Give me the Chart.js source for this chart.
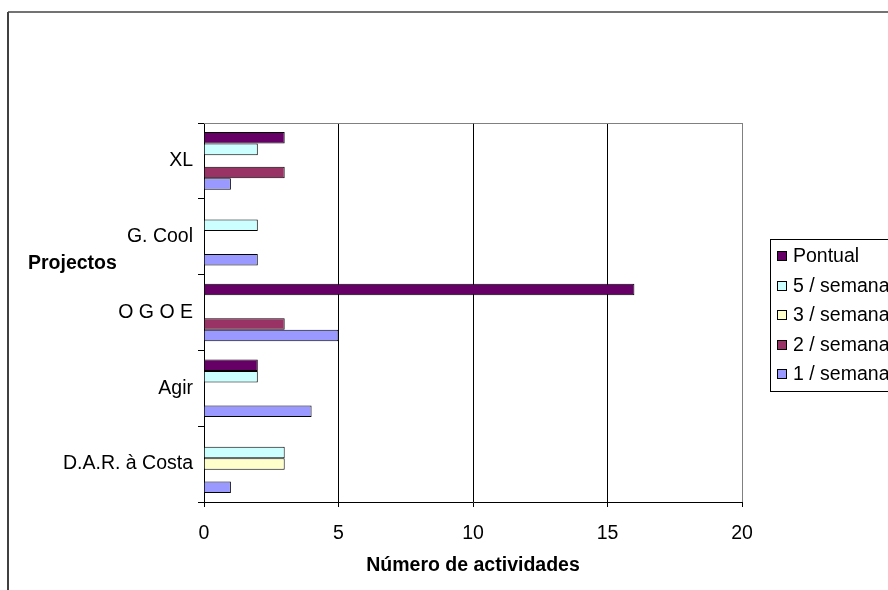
<!DOCTYPE html>
<html>
<head>
<meta charset="utf-8">
<script src="https://cdn.jsdelivr.net/npm/chart.js@4.4.0/dist/chart.umd.min.js"></script>
<style>
  html, body { margin: 0; padding: 0; background: #fff; }
  #wrap { position: relative; width: 888px; height: 590px; overflow: hidden; background: #fff; }
</style>
</head>
<body>
<div id="wrap"><canvas id="c"></canvas></div>
<script>
// Projects, listed top to bottom
const categories = ['XL', 'G. Cool', 'O G O E', 'Agir', 'D.A.R. à Costa'];
// Activity frequency series (null = no activities of that kind)
const seriesNames = ['Pontual', '5 / semana', '3 / semana', '2 / semana', '1 / semana'];
const pontual  = [3, null, 16, 2, null];
const cincoSem = [2, 2, null, 2, 3];
const tresSem  = [null, null, null, null, 3];
const doisSem  = [3, null, 3, null, null];
const umSem    = [1, 2, 5, 4, 1];
const xTicks   = [0, 5, 10, 15, 20];

const palette = ['#660066', '#CCFFFF', '#FFFFCC', '#993366', '#9999FF'];
const FONT = '"Liberation Sans", Arial, Helvetica, sans-serif';
const FS = 19.5;

const seriesValues = [pontual, cincoSem, tresSem, doisSem, umSem];
const datasets = seriesNames.map((name, i) => ({
  label: name,
  data: seriesValues[i],
  backgroundColor: palette[i],
  borderColor: '#000',
  borderWidth: 1,
  categoryPercentage: 0.76,
  barPercentage: 1.0
}));

// Frame, plot border, horizontal axis caption and boxed legend
const decorations = {
  id: 'decorations',
  afterDraw(chart) {
    const ctx = chart.ctx;
    const area = chart.chartArea;
    ctx.save();

    // outer frame
    ctx.strokeStyle = '#000';
    ctx.lineWidth = 1.5;
    ctx.beginPath();
    ctx.moveTo(8, 590);
    ctx.lineTo(8, 12);
    ctx.stroke();
    ctx.strokeStyle = '#444';
    ctx.beginPath();
    ctx.moveTo(8, 12);
    ctx.lineTo(888, 12);
    ctx.stroke();

    // top edge of the plot area
    ctx.strokeStyle = '#808080';
    ctx.lineWidth = 1;
    ctx.beginPath();
    ctx.moveTo(area.left, Math.round(area.top) + 0.5);
    ctx.lineTo(area.right + 1, Math.round(area.top) + 0.5);
    ctx.stroke();

    // y axis caption, written horizontally
    ctx.fillStyle = '#000';
    ctx.font = 'bold ' + FS + 'px ' + FONT;
    ctx.textAlign = 'left';
    ctx.textBaseline = 'alphabetic';
    ctx.fillText('Projectos', 28, 269);

    // legend
    const lx = 770, ly = 239, lw = 140, lh = 152;
    ctx.fillStyle = '#fff';
    ctx.fillRect(lx, ly, lw, lh);
    ctx.strokeStyle = '#000';
    ctx.strokeRect(lx + 0.5, ly + 0.5, lw, lh);
    ctx.font = FS + 'px ' + FONT;
    ctx.textBaseline = 'middle';
    chart.data.datasets.forEach((ds, i) => {
      const y = 256 + i * 29.5;
      ctx.fillStyle = ds.backgroundColor;
      ctx.fillRect(777, Math.round(y - 5), 10, 10);
      ctx.strokeStyle = '#000';
      ctx.strokeRect(777.5, Math.round(y - 5) + 0.5, 9, 9);
      ctx.fillStyle = '#000';
      ctx.fillText(ds.label, 793, y + 1);
    });
    ctx.restore();
  }
};

new Chart(document.getElementById('c'), {
  type: 'bar',
  data: { labels: categories, datasets },
  options: {
    indexAxis: 'y',
    responsive: true,
    maintainAspectRatio: false,
    animation: false,
    layout: { padding: { left: 0, top: 123, right: 146, bottom: 0 } },
    plugins: {
      legend: { display: false },
      tooltip: { enabled: false }
    },
    scales: {
      x: {
        type: 'linear',
        min: 0,
        max: 20,
        afterBuildTicks(scale) { scale.ticks = xTicks.map(v => ({ value: v })); },
        afterFit(scale) { scale.height = 88; },
        ticks: {
          color: '#000',
          font: { family: FONT, size: FS },
          padding: 15,
          maxRotation: 0
        },
        grid: {
          color: (c) => (c.tick && c.tick.value === 20 ? '#808080' : '#000'),
          tickColor: '#000',
          tickLength: 5,
          lineWidth: 1
        },
        border: { display: true, color: '#000', width: 1 },
        title: {
          display: true,
          text: 'Número de actividades',
          color: '#000',
          font: { family: FONT, size: FS, weight: 'bold' },
          padding: { top: 0, bottom: 13 }
        }
      },
      y: {
        afterFit(scale) { scale.width = 204; },
        ticks: {
          color: '#000',
          font: { family: FONT, size: FS },
          padding: 5
        },
        grid: {
          offset: true,
          drawOnChartArea: false,
          color: '#000',
          tickLength: 6
        },
        border: { display: true, color: '#000', width: 1 }
      }
    }
  },
  plugins: [decorations]
});
</script>
</body>
</html>
